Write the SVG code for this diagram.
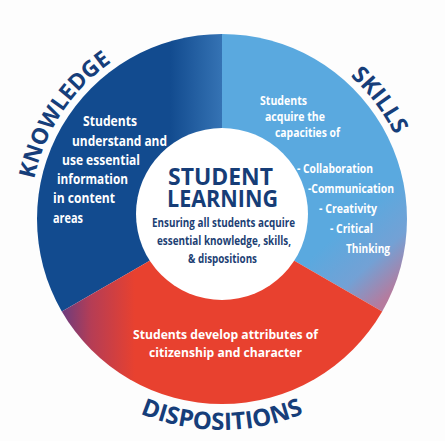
<svg xmlns="http://www.w3.org/2000/svg" width="445" height="441" viewBox="0 0 445 441">
  <defs>
    <style>
      .w { font-family: "Open Sans", "Liberation Sans", sans-serif; font-weight: 700; fill: #ffffff; }
      .kt { font-size: 13.5px; }
      .st { font-size: 11.5px; }
      .dt { font-size: 13px; }
      .title { font-family: "Open Sans", "Liberation Sans", sans-serif; font-weight: 700; fill: #163d77; font-size: 23px; }
      .sub { font-family: "Open Sans", "Liberation Sans", sans-serif; font-weight: 700; fill: #1d3f74; font-size: 12.5px; }
      .arc { font-family: "Open Sans", "Liberation Sans", sans-serif; font-weight: 700; fill: #163e7a; }
    </style>
    <linearGradient id="gKnow" gradientUnits="userSpaceOnUse" x1="170" y1="0" x2="222" y2="0">
      <stop offset="0" stop-color="#124b8f"/>
      <stop offset="1" stop-color="#3573b4"/>
    </linearGradient>
    <linearGradient id="gSkill" gradientUnits="userSpaceOnUse" x1="330" y1="240" x2="385" y2="300">
      <stop offset="0" stop-color="#5aa9df"/>
      <stop offset="0.55" stop-color="#73a1d5"/>
      <stop offset="1" stop-color="#b57b9e"/>
    </linearGradient>
    <linearGradient id="gDisp" gradientUnits="userSpaceOnUse" x1="55" y1="0" x2="135" y2="0">
      <stop offset="0" stop-color="#5a3c88"/>
      <stop offset="0.45" stop-color="#b53d55"/>
      <stop offset="1" stop-color="#e8412f"/>
    </linearGradient>
    <path id="pKnow" d="M33.9,257.6 A192,192 0 0 1 183.4,30.9"/>
    <path id="pSkill" d="M297,42.3 A192,192 0 0 1 412.6,195.6"/>
    <path id="pDisp" d="M72.8,368.2 A211,211 0 0 0 371.2,368.2"/>
  </defs>

  <rect x="0" y="0" width="445" height="441" fill="#fdfdfd"/>

  <g id="knowledge">
    <path d="M222,219 L61.8,311.5 A185,185 0 0 1 222,34 Z" fill="url(#gKnow)"/>
    <text class="w kt" x="83" y="126" textLength="54" lengthAdjust="spacingAndGlyphs">Students</text>
    <text class="w kt" x="72" y="146" textLength="95" lengthAdjust="spacingAndGlyphs">understand and</text>
    <text class="w kt" x="62" y="165" textLength="78" lengthAdjust="spacingAndGlyphs">use essential</text>
    <text class="w kt" x="57" y="184" textLength="71" lengthAdjust="spacingAndGlyphs">information</text>
    <text class="w kt" x="53" y="203" textLength="62" lengthAdjust="spacingAndGlyphs">in content</text>
    <text class="w kt" x="53" y="223" textLength="30" lengthAdjust="spacingAndGlyphs">areas</text>
    <text class="arc" font-size="22.5"><textPath href="#pKnow" startOffset="50%" text-anchor="middle">KNOWLEDGE</textPath></text>
  </g>

  <g id="skills">
    <path d="M222,219 L222,34 A185,185 0 0 1 382.2,311.5 Z" fill="url(#gSkill)"/>
    <text class="w st" x="260" y="105" textLength="47" lengthAdjust="spacingAndGlyphs">Students</text>
    <text class="w st" x="265" y="121" textLength="60" lengthAdjust="spacingAndGlyphs">acquire the</text>
    <text class="w st" x="275" y="137" textLength="65" lengthAdjust="spacingAndGlyphs">capacities of</text>
    <text class="w st" x="297" y="173" textLength="76" lengthAdjust="spacingAndGlyphs">- Collaboration</text>
    <text class="w st" x="308" y="193" textLength="86" lengthAdjust="spacingAndGlyphs">-Communication</text>
    <text class="w st" x="319" y="213" textLength="58" lengthAdjust="spacingAndGlyphs">- Creativity</text>
    <text class="w st" x="330" y="233" textLength="43" lengthAdjust="spacingAndGlyphs">- Critical</text>
    <text class="w st" x="346" y="253" textLength="44" lengthAdjust="spacingAndGlyphs">Thinking</text>
    <text class="arc" font-size="23"><textPath href="#pSkill" startOffset="50%" text-anchor="middle">SKILLS</textPath></text>
  </g>

  <g id="dispositions">
    <path d="M222,219 L382.2,311.5 A185,185 0 0 1 61.8,311.5 Z" fill="url(#gDisp)"/>
    <text class="w dt" x="133" y="339" textLength="185" lengthAdjust="spacingAndGlyphs">Students develop attributes of</text>
    <text class="w dt" x="149" y="357" textLength="153" lengthAdjust="spacingAndGlyphs">citizenship and character</text>
    <text class="arc" font-size="24"><textPath href="#pDisp" startOffset="50%" text-anchor="middle">DISPOSITIONS</textPath></text>
  </g>

  <g id="center">
    <circle cx="222" cy="214" r="86" fill="#ffffff"/>
    <text class="title" x="168" y="185" textLength="105" lengthAdjust="spacingAndGlyphs">STUDENT</text>
    <text class="title" x="167" y="207" textLength="111" lengthAdjust="spacingAndGlyphs">LEARNING</text>
    <text class="sub" x="152" y="227" textLength="143" lengthAdjust="spacingAndGlyphs">Ensuring all students acquire</text>
    <text class="sub" x="157" y="245" textLength="134" lengthAdjust="spacingAndGlyphs">essential knowledge, skills,</text>
    <text class="sub" x="188" y="263" textLength="69" lengthAdjust="spacingAndGlyphs">&amp; dispositions</text>
  </g>
</svg>
